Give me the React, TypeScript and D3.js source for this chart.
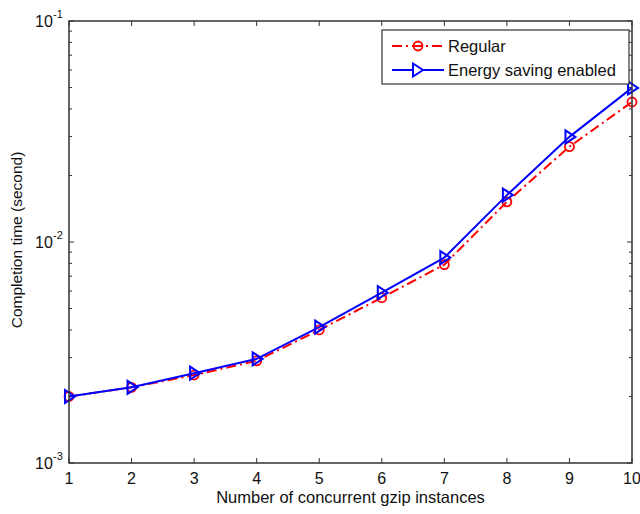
import { scaleLinear, scaleLog, line, range } from "d3";

const instances = [1, 2, 3, 4, 5, 6, 7, 8, 9, 10];
const regular = [0.002, 0.0022, 0.0025, 0.0029, 0.004, 0.0056, 0.0079, 0.0152, 0.027, 0.043];
const energySaving = [0.002, 0.0022, 0.00255, 0.00296, 0.00412, 0.0059, 0.0085, 0.0163, 0.0299, 0.0498];
const yDecades = [-3, -2, -1];
const legendLabels = ["Regular", "Energy saving enabled"];

const App = () => {
  const width = 640;
  const height = 514;
  const margin = { top: 21, right: 8, bottom: 51, left: 69 };
  const innerW = width - margin.left - margin.right;
  const innerH = height - margin.top - margin.bottom;
  const font = "'Liberation Sans', Arial, sans-serif";

  const x = scaleLinear().domain([1, 10]).range([0, innerW]);
  const y = scaleLog().domain([0.001, 0.1]).range([innerH, 0]);

  const minor: number[] = [];
  [-3, -2].forEach((e) => {
    range(2, 10).forEach((m) => minor.push(m * Math.pow(10, e)));
  });

  const lineGen = line<number>()
    .x((_, i) => x(instances[i]))
    .y((d) => y(d));

  const tri = (cx: number, cy: number) =>
    `M${cx - 4},${cy - 6.5}L${cx + 6},${cy}L${cx - 4},${cy + 6.5}Z`;

  return (
    <svg
      width={width}
      height={height}
      style={{ position: "absolute", left: 0, top: 0, background: "#fff" }}
      fontFamily={font}
    >
      <rect width={width} height={height} fill="#fff" />
      <g transform={`translate(${margin.left},${margin.top})`}>
        {/* ticks */}
        {instances.map((d) => (
          <g key={`xt${d}`}>
            <line x1={x(d)} x2={x(d)} y1={innerH} y2={innerH - 5} stroke="#333" />
            <line x1={x(d)} x2={x(d)} y1={0} y2={5} stroke="#333" />
            <text x={x(d)} y={innerH + 21} textAnchor="middle" fontSize={16} fill="#111">
              {d}
            </text>
          </g>
        ))}
        {yDecades.map((e) => {
          const yy = y(Math.pow(10, e));
          return (
            <g key={`yt${e}`}>
              <line x1={0} x2={5} y1={yy} y2={yy} stroke="#333" />
              <line x1={innerW} x2={innerW - 5} y1={yy} y2={yy} stroke="#333" />
              <text x={-34} y={yy + 6} fontSize={16} fill="#111">
                10
              </text>
              <text x={-16} y={yy - 3} fontSize={11} fill="#111">
                {e}
              </text>
            </g>
          );
        })}
        {minor.map((v, i) => (
          <g key={`m${i}`}>
            <line x1={0} x2={3} y1={y(v)} y2={y(v)} stroke="#333" />
            <line x1={innerW} x2={innerW - 3} y1={y(v)} y2={y(v)} stroke="#333" />
          </g>
        ))}

        {/* series */}
        <path
          d={lineGen(regular) ?? ""}
          fill="none"
          stroke="#ff0000"
          strokeWidth={2}
          strokeDasharray="10,4,2,4"
        />
        {regular.map((d, i) => (
          <circle key={`r${i}`} cx={x(instances[i])} cy={y(d)} r={4.5} fill="none" stroke="#ff0000" strokeWidth={1.8} />
        ))}
        <path d={lineGen(energySaving) ?? ""} fill="none" stroke="#0000ff" strokeWidth={2} />
        {energySaving.map((d, i) => (
          <path key={`b${i}`} d={tri(x(instances[i]), y(d))} fill="none" stroke="#0000ff" strokeWidth={2} />
        ))}

        <rect x={0} y={0} width={innerW} height={innerH} fill="none" stroke="#333" strokeWidth={1.5} />

        {/* legend */}
        <g transform={`translate(${313},${9})`}>
          <rect x={0} y={0} width={247} height={54} fill="#fff" stroke="#333" strokeWidth={1.2} />
          <line x1={10} x2={62} y1={16} y2={16} stroke="#ff0000" strokeWidth={2} strokeDasharray="10,4,2,4" />
          <circle cx={36} cy={16} r={4.5} fill="none" stroke="#ff0000" strokeWidth={1.8} />
          <text x={66} y={22} fontSize={16.5} fill="#111">
            {legendLabels[0]}
          </text>
          <line x1={10} x2={62} y1={40} y2={40} stroke="#0000ff" strokeWidth={2} />
          <path d={tri(35, 40)} fill="#fff" stroke="#0000ff" strokeWidth={2} />
          <text x={66} y={46} fontSize={16.5} fill="#111">
            {legendLabels[1]}
          </text>
        </g>

        {/* axis labels */}
        <text x={innerW / 2} y={innerH + 40} textAnchor="middle" fontSize={16.5} fill="#111">
          Number of concurrent gzip instances
        </text>
        <text
          transform={`translate(${-47},${innerH / 2 - 2}) rotate(-90)`}
          textAnchor="middle"
          fontSize={15.5}
          fill="#111"
        >
          Completion time (second)
        </text>
      </g>
    </svg>
  );
};

export default App;
